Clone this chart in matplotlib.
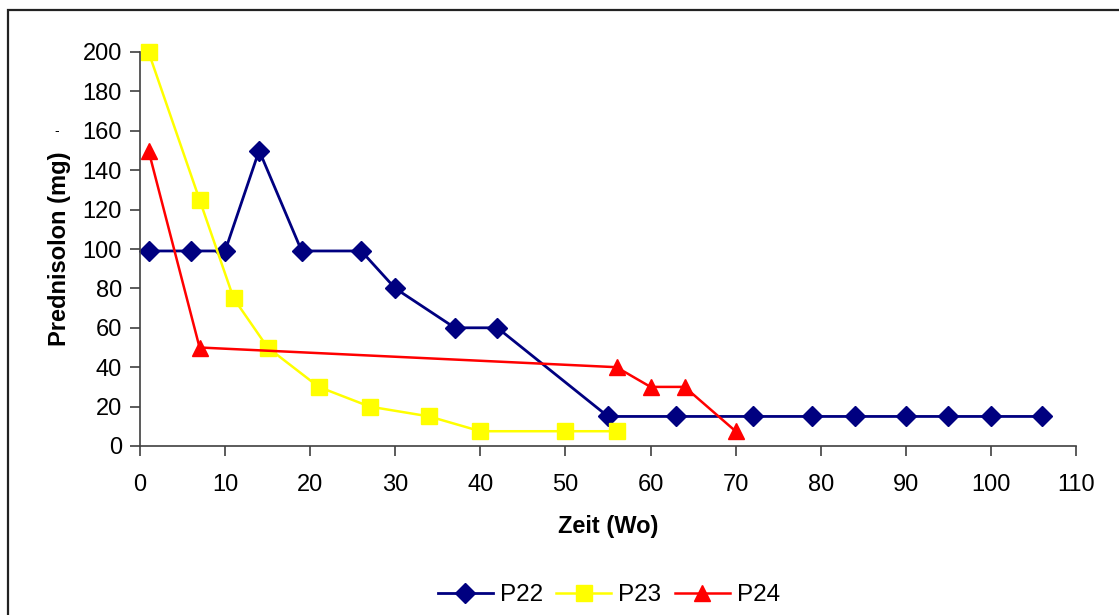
import matplotlib.pyplot as plt
from matplotlib.patches import Rectangle

# Prednisolon-Dosis je Patient über die Zeit
p22_x = [1, 6, 10, 14, 19, 26, 30, 37, 42, 55, 63, 72, 79, 84, 90, 95, 100, 106]
p22_y = [99, 99, 99, 150, 99, 99, 80, 60, 60, 15, 15, 15, 15, 15, 15, 15, 15, 15]
p23_x = [1, 7, 11, 15, 21, 27, 34, 40, 50, 56]
p23_y = [200, 125, 75, 50, 30, 20, 15, 7.5, 7.5, 7.5]
p24_x = [1, 7, 56, 60, 64, 70]
p24_y = [150, 50, 40, 30, 30, 7.5]

x_ticks = list(range(0, 111, 10))
y_ticks = list(range(0, 201, 20))


def main():
	plt.rcParams['font.family'] = ['Liberation Sans', 'DejaVu Sans']
	fig = plt.figure(figsize=(11.19, 6.15), dpi=100)
	ax = fig.add_axes([140 / 1119, 1 - 446 / 615, (1076 - 140) / 1119, (446 - 52) / 615])

	ax.plot(p22_x, p22_y, color="#000080", marker="D", markersize=10, lw=2, label="P22", clip_on=False)
	ax.plot(p23_x, p23_y, color="#FFFF00", marker="s", markersize=11, lw=1.8, label="P23", clip_on=False)
	ax.plot(p24_x, p24_y, color="#FF0000", marker="^", markersize=11, lw=1.8, label="P24", clip_on=False)

	ax.set_xlim(0, 110)
	ax.set_ylim(0, 200)
	ax.set_xticks(x_ticks)
	ax.set_yticks(y_ticks)
	for s in ["top", "right"]:
		ax.spines[s].set_visible(False)
	for s in ["left", "bottom"]:
		ax.spines[s].set_color("#404040")
		ax.spines[s].set_linewidth(1.2)
	ax.tick_params(axis="x", direction="out", length=7, width=1.2, color="#404040", labelsize=17, pad=13)
	ax.tick_params(axis="y", direction="out", length=7, width=1.2, color="#404040", labelsize=17, pad=6)
	ax.set_xlabel("Zeit (Wo)", fontsize=17, fontweight="bold", labelpad=14)
	ax.set_ylabel("Prednisolon (mg)", fontsize=17, fontweight="bold", labelpad=8)

	fig.text(57 / 1119, 1 - 131 / 615, "-", fontsize=10, ha="center", va="center")

	ax.legend(loc="center", bbox_to_anchor=(609 / 1119, 1 - 595 / 615), bbox_transform=fig.transFigure,
		ncol=3, frameon=False, fontsize=17.5, handlelength=2.25, columnspacing=0.55, handletextpad=0.3)

	# Rahmen um das Diagramm
	fig.patches.append(Rectangle((8 / 1119, -0.1), 1.2, 1 - 10 / 615 + 0.1, transform=fig.transFigure,
		fill=False, edgecolor="#222222", linewidth=1.6))

	fig.savefig("out.png", dpi=100)


if __name__ == "__main__":
	main()
